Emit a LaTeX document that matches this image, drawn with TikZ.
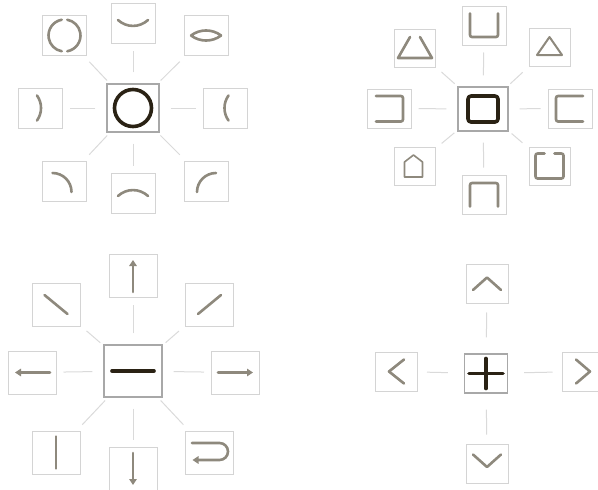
\documentclass[tikz,border=0pt]{standalone}
\usepackage{xcolor}
\usepackage{tikz}
\usetikzlibrary{arrows.meta}
\definecolor{tilegray}{HTML}{D4D4D4}
\definecolor{linkgray}{HTML}{DADADA}
\definecolor{hubgray}{HTML}{A8A8A8}
\definecolor{inkgray}{HTML}{8E897D}
\definecolor{inkdark}{HTML}{2A2214}

\begin{document}
\begin{tikzpicture}[x=1pt,y=-1pt,
	tile/.style={draw=tilegray,line width=1pt,fill=white,inner sep=0pt,minimum width=44pt,minimum height=40pt},
	hub/.style={draw=hubgray,line width=1.2pt,fill=white,inner sep=0pt},
	link/.style={draw=linkgray,line width=1pt,shorten <=11pt,shorten >=7pt},
	dlink/.style={draw=linkgray,line width=1pt,shorten <=4pt,shorten >=8pt},
	glyph/.style={draw=inkgray,line width=2.6pt,line cap=round,line join=round},
	core/.style={draw=inkdark,line width=3.6pt,line cap=round,line join=round},
	tip/.style={-{Triangle[length=6pt,width=7.5pt]}}]
		\useasboundingbox (0,0) rectangle (598,490);
		% circle group
		\node[hub,minimum width=52pt,minimum height=48pt] (ring) at (133,108) {};
		\node[tile] (ringN) at (133,23) {};
		\node[tile] (ringNW) at (64.5,35.5) {};
		\node[tile] (ringNE) at (206,35.5) {};
		\node[tile] (ringW) at (40,108) {};
		\node[tile] (ringE) at (225.5,108) {};
		\node[tile] (ringSW) at (64.5,181) {};
		\node[tile] (ringS) at (133,193) {};
		\node[tile] (ringSE) at (206,181) {};
		\foreach \t in {N,W,E,S} \draw[link] (ring) -- (ring\t);
		\foreach \t in {NW,NE,SW,SE} \draw[dlink] (ring) -- (ring\t);
		\draw[core,shift={(ring.center)},yscale=-1] (0,0) circle (18.5);
		\draw[glyph,shift={(ringNW.center)},yscale=-1] (100:16) arc (100:260:16) (-80:16) arc (-80:80:16);
		\draw[glyph,shift={(ringN.center)},yscale=-1] (-15,3) arc (227:313:22);
		\draw[glyph,shift={(ringNE.center)},yscale=-1] (-15,0) arc (233:307:25) (-15,0) arc (127:53:25);
		\draw[glyph,shift={(ringW.center)},yscale=-1] (-3,12.5) arc (35.6:-35.6:21.5);
		\draw[glyph,shift={(ringE.center)},yscale=-1] (3,12.5) arc (144.4:215.6:21.5);
		\draw[glyph,shift={(ringSW.center)},yscale=-1] (-12,8) arc (90:0:19);
		\draw[glyph,shift={(ringS.center)},yscale=-1] (-15,-3) arc (133:47:22);
		\draw[glyph,shift={(ringSE.center)},yscale=-1] (-9,-11) arc (180:90:19);
		% square group
		\node[hub,minimum width=50pt,minimum height=44pt] (box) at (483,109) {};
		\node[tile,minimum height=39pt] (boxN) at (484,25.5) {};
		\node[tile,minimum width=41pt,minimum height=38pt] (boxNW) at (414.5,48) {};
		\node[tile,minimum width=41pt,minimum height=38pt] (boxNE) at (549.5,47.5) {};
		\node[tile,minimum height=39pt] (boxW) at (389,108.5) {};
		\node[tile,minimum height=39pt] (boxE) at (570,108.5) {};
		\node[tile,minimum width=41pt,minimum height=38pt] (boxSW) at (414.5,166) {};
		\node[tile,minimum height=39pt] (boxS) at (484,194.5) {};
		\node[tile,minimum width=41pt,minimum height=38pt] (boxSE) at (549.5,166) {};
		\foreach \t in {N,W,E,S} \draw[link] (box) -- (box\t);
		\foreach \t in {NW,NE,SW,SE} \draw[dlink] (box) -- (box\t);
		\draw[core,rounded corners=3pt,shift={(box.center)},yscale=-1] (-15,-13) rectangle (15,13);
		\draw[glyph,rounded corners=2pt,shift={(boxN.center)},yscale=-1] (-14,12) -- (-14,-11.5) -- (14,-11.5) -- (14,12);
		\draw[glyph,rounded corners=2pt,shift={(boxS.center)},yscale=-1] (-14,-12) -- (-14,11.5) -- (14,11.5) -- (14,-12);
		\draw[glyph,rounded corners=2pt,shift={(boxW.center)},yscale=-1] (-13,12.5) -- (14,12.5) -- (14,-13) -- (-13,-13);
		\draw[glyph,rounded corners=2pt,shift={(boxE.center)},yscale=-1] (13,12.5) -- (-14,12.5) -- (-14,-13) -- (13,-13);
		\draw[glyph,shift={(boxNW.center)},yscale=-1] (-4.5,11) -- (-16.5,-10) -- (17.5,-10) -- (5.5,11);
		\draw[glyph,line width=2pt,shift={(boxNE.center)},yscale=-1] (0,10.5) -- (-12.5,-7.5) -- (12.5,-7.5) -- cycle;
		\draw[glyph,line width=1.6pt,shift={(boxSW.center)},yscale=-1] (-1,11) -- (8,4) -- (8,-11) -- (-10,-11) -- (-10,4) -- cycle;
		\draw[glyph,rounded corners=2pt,shift={(boxSE.center)},yscale=-1] (-5,12.5) -- (-14,12.5) -- (-14,-12.5) -- (14,-12.5) -- (14,12.5) -- (5,12.5);
		% line group
		\begin{scope}[tile/.append style={minimum width=48pt,minimum height=43pt}]
		\node[hub,minimum width=58pt,minimum height=52pt] (bar) at (133,371) {};
		\node[tile] (barN) at (133,276) {};
		\node[tile] (barNW) at (56,304.5) {};
		\node[tile] (barNE) at (209.5,304.5) {};
		\node[tile] (barW) at (32,372.5) {};
		\node[tile] (barE) at (235.5,372.5) {};
		\node[tile] (barSW) at (56,452.5) {};
		\node[tile] (barS) at (133,469) {};
		\node[tile] (barSE) at (209.5,452.5) {};
		\end{scope}
		\foreach \t in {N,W,E,S} \draw[link] (bar) -- (bar\t);
		\foreach \t in {NW,NE,SW,SE} \draw[dlink] (bar) -- (bar\t);
		\draw[core,shift={(bar.center)},yscale=-1] (-21,0) -- (21,0);
		\draw[glyph,tip,shift={(barN.center)},yscale=-1] (0,-16) -- (0,16);
		\draw[glyph,tip,shift={(barS.center)},yscale=-1] (0,16) -- (0,-16);
		\draw[glyph,tip,shift={(barW.center)},yscale=-1] (18,0) -- (-17,0);
		\draw[glyph,tip,shift={(barE.center)},yscale=-1] (-17.5,0) -- (17.5,0);
		\draw[glyph,shift={(barNW.center)},yscale=-1] (-11.5,9.5) -- (11.5,-9.5);
		\draw[glyph,shift={(barNE.center)},yscale=-1] (-11.5,-9.5) -- (11.5,9.5);
		\draw[glyph,shift={(barSW.center)},yscale=-1] (0,16) -- (0,-16);
		\draw[glyph,tip,shift={(barSE.center)},yscale=-1] (-17.5,9.5) -- (10,9.5) arc (90:-90:8.5) -- (-17,-7.5);
		% cross group
		\begin{scope}[tile/.append style={minimum width=42pt,minimum height=39pt},
			link/.append style={shorten <=16pt,shorten >=9pt}]
		\node[hub,minimum width=43pt,minimum height=39pt] (plus) at (486,373.5) {};
		\node[tile] (plusN) at (487,283.5) {};
		\node[tile] (plusW) at (396.5,371.5) {};
		\node[tile] (plusE) at (583,371.5) {};
		\node[tile] (plusS) at (487,463.5) {};
		\foreach \t in {N,W,E,S} \draw[link] (plus) -- (plus\t);
		\end{scope}
		\draw[core,shift={(plus.center)},yscale=-1] (-17,0) -- (17,0) (0,-15) -- (0,15);
		\draw[glyph,shift={(plusN.center)},yscale=-1] (-14,-6.5) -- (0,6) -- (14,-6.5);
		\draw[glyph,shift={(plusS.center)},yscale=-1] (-14,9) -- (0,-3.5) -- (14,9);
		\draw[glyph,shift={(plusW.center)},yscale=-1] (7.5,12) -- (-7.5,0) -- (7.5,-12);
		\draw[glyph,shift={(plusE.center)},yscale=-1] (-7,12) -- (7,0) -- (-7,-12);
	\end{tikzpicture}
\end{document}
